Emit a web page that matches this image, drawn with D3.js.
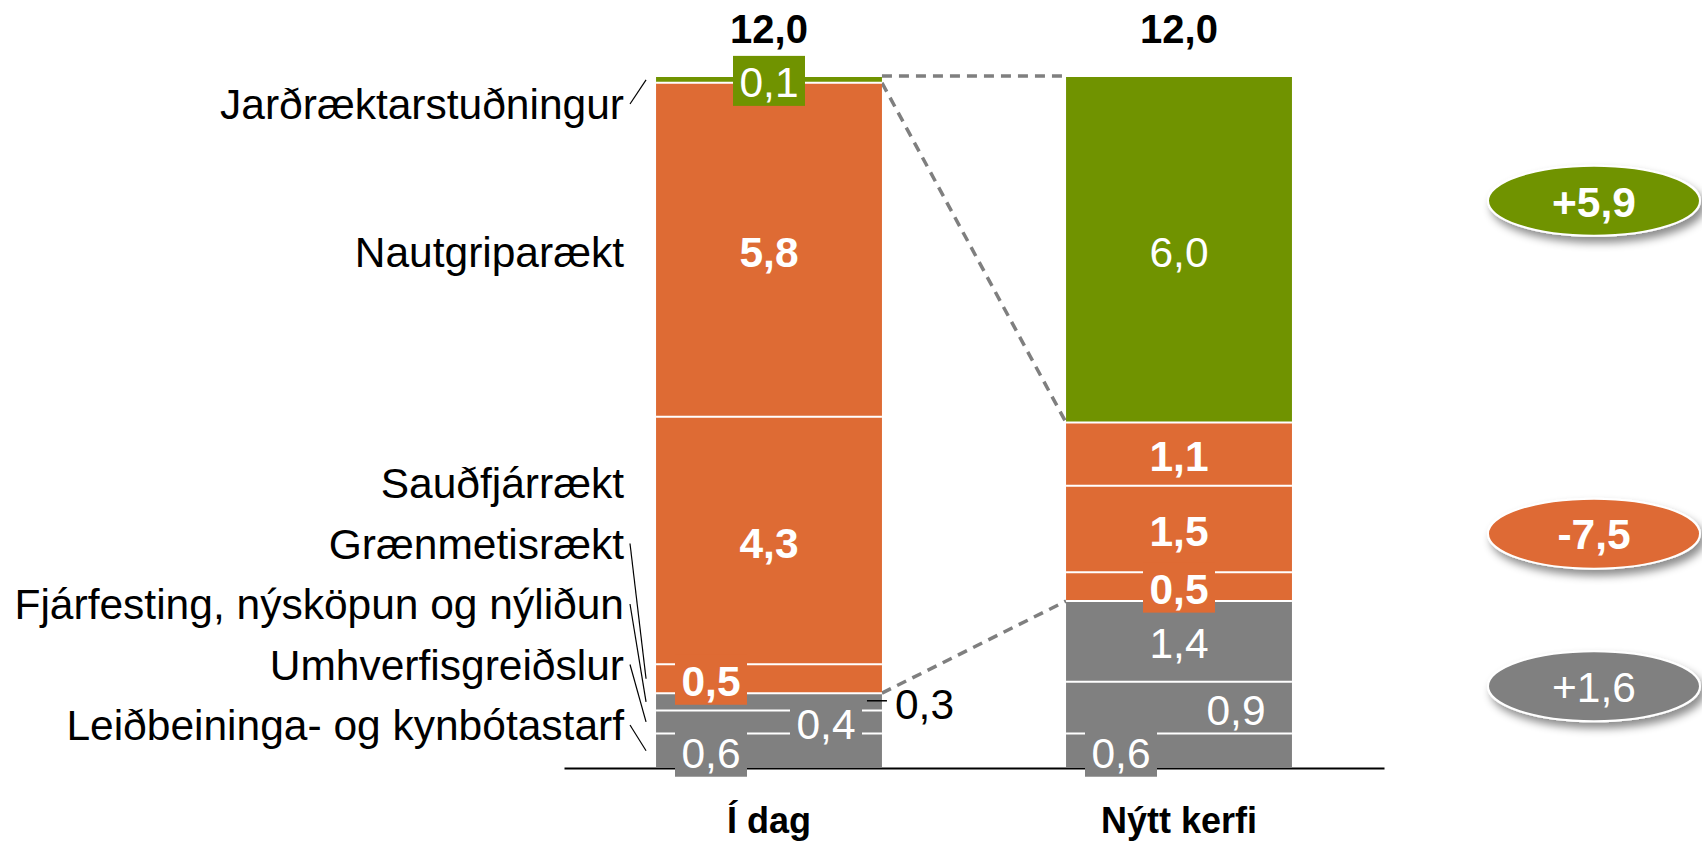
<!DOCTYPE html>
<html lang="is">
<head>
  <meta charset="UTF-8">
  <title>Í dag og nýtt kerfi</title>
  <script src="https://d3js.org/d3.v7.min.js"></script>
  <style>
    * { box-sizing: border-box; margin: 0; padding: 0; }
    body { background: #fff; font-family: 'Liberation Sans', Arial, sans-serif; }
    svg { display: block; }
  </style>
</head>
<body>
  <div id="chart"></div>

  <script>
    // bars on the x axis
    const categories = ["Í dag", "Nýtt kerfi"];

    // segments, bottom to top
    const segmentNames = [
      "Leiðbeininga- og kynbótastarf",
      "Umhverfisgreiðslur",
      "Fjárfesting, nýsköpun og nýliðun",
      "Grænmetisrækt",
      "Sauðfjárrækt",
      "Nautgriparækt",
      "Jarðræktarstuðningur"
    ];
    const segmentGroups = ["gray", "gray", "gray", "orange", "orange", "orange", "green"];
    const todayValues = [0.6, 0.4, 0.3, 0.5, 4.3, 5.8, 0.1];
    const newValues = [0.6, 0.9, 1.4, 0.5, 1.5, 1.1, 6.0];

    // change badges on the right
    const badgeGroups = ["green", "orange", "gray"];

    // layout only (not data)
    const todayPlace = ["left", "right", "outside", "left", "center", "center", "center"];
    const newPlace = ["left", "right", "center", "center", "center", "center", "center"];
    const badgeAt = [9.85, 4.07, 1.42];

    const colors = { green: "#709300", orange: "#DE6B34", gray: "#808080" };

    const width = 1702, height = 841;
    const fontSize = 42.5;

    const loc = d3.formatLocale({ decimal: ",", thousands: ".", grouping: [3], currency: ["", ""], minus: "-" });
    const f1 = loc.format(".1f");
    const fSigned = loc.format("+.1f");

    const svg = d3.select("#chart").append("svg")
      .attr("width", width)
      .attr("height", height)
      .style("font-family", "'Liberation Sans', Arial, sans-serif");

    const defs = svg.append("defs");
    defs.append("filter").attr("id", "shadow")
      .attr("x", "-20%").attr("y", "-30%").attr("width", "140%").attr("height", "170%")
      .append("feDropShadow")
      .attr("dx", 4).attr("dy", 6).attr("stdDeviation", 4)
      .attr("flood-color", "#000").attr("flood-opacity", 0.45);

    const x = d3.scaleBand()
      .domain(categories)
      .range([564, 1384])
      .paddingInner(0.449)
      .paddingOuter(0.2245);

    const y = d3.scaleLinear().domain([0, 12]).range([768, 77]);

    const build = (values, place) => {
      let acc = 0;
      return values.map((v, i) => {
        const s = { name: segmentNames[i], value: v, group: segmentGroups[i], y0: acc, y1: acc + v, place: place[i] };
        acc += v;
        return s;
      });
    };

    const bars = [
      { cat: categories[0], segs: build(todayValues, todayPlace) },
      { cat: categories[1], segs: build(newValues, newPlace) }
    ];

    // axis first, bars sit on top of it
    const axis = svg.append("g")
      .attr("transform", `translate(0,${y(0)})`)
      .call(d3.axisBottom(x).tickSize(0).tickSizeOuter(0).tickPadding(39));
    axis.select(".domain").attr("stroke", "#000").attr("stroke-width", 2);
    axis.selectAll("text")
      .attr("fill", "#000")
      .style("font-size", "36px")
      .style("font-weight", "bold")
      .style("font-family", "'Liberation Sans', Arial, sans-serif");

    // dashed connectors between group tops
    const groupTop = (segs, grp) => d3.max(segs.filter(s => s.group === grp), s => s.y1);
    const bw = x.bandwidth();
    svg.append("g").selectAll("line")
      .data(badgeGroups)
      .join("line")
      .attr("x1", x(categories[0]) + bw)
      .attr("x2", x(categories[1]))
      .attr("y1", g => y(groupTop(bars[0].segs, g)) - (g === "green" ? 1 : 0))
      .attr("y2", g => y(groupTop(bars[1].segs, g)) - (g === "green" ? 1 : 0))
      .attr("stroke", "#7f7f7f")
      .attr("stroke-width", 3.5)
      .attr("stroke-dasharray", "10,7");

    // bars
    bars.forEach(b => {
      const g = svg.append("g");
      const x0 = x(b.cat);
      g.selectAll("rect")
        .data(b.segs)
        .join("rect")
        .attr("x", x0)
        .attr("width", bw)
        .attr("y", d => y(d.y1))
        .attr("height", d => y(d.y0) - y(d.y1))
        .attr("fill", d => colors[d.group]);
      g.selectAll("line")
        .data(b.segs.slice(1))
        .join("line")
        .attr("x1", x0)
        .attr("x2", x0 + bw)
        .attr("y1", d => y(d.y0))
        .attr("y2", d => y(d.y0))
        .attr("stroke", "#fff")
        .attr("stroke-width", 2);
    });

    // value labels
    bars.forEach(b => {
      const x0 = x(b.cat);
      const cx = x0 + bw / 2;
      const g = svg.append("g");
      const items = b.segs.map(s => {
        const mid = y((s.y0 + s.y1) / 2);
        const h = y(s.y0) - y(s.y1);
        let lx = cx, anchor = "middle";
        if (s.place === "left") lx = cx - 58;
        if (s.place === "right") lx = cx + 57;
        if (s.place === "outside") { lx = x0 + bw + 13; anchor = "start"; }
        return { s, mid, lx, anchor, boxed: h < 45 && s.place !== "outside" };
      });

      g.selectAll("rect")
        .data(items.filter(d => d.boxed))
        .join("rect")
        .attr("x", d => d.lx - 36)
        .attr("y", d => d.mid - 24)
        .attr("width", 72)
        .attr("height", 50)
        .attr("fill", d => colors[d.s.group]);

      items.filter(d => d.s.place === "outside").forEach(d => {
        g.append("line")
          .attr("x1", x0 + bw - 15).attr("x2", x0 + bw + 5)
          .attr("y1", d.mid - 1).attr("y2", d.mid - 1)
          .attr("stroke", "#000").attr("stroke-width", 1.5);
      });

      g.selectAll("text")
        .data(items)
        .join("text")
        .attr("x", d => d.lx)
        .attr("y", d => d.mid)
        .attr("dy", "0.4em")
        .attr("text-anchor", d => d.anchor)
        .attr("fill", d => d.s.place === "outside" ? "#000" : "#fff")
        .style("font-size", fontSize + "px")
        .style("font-weight", d => d.s.group === "orange" ? "bold" : "normal")
        .text(d => f1(d.s.value));

      // total on top
      svg.append("text")
        .attr("x", cx)
        .attr("y", 43)
        .attr("text-anchor", "middle")
        .style("font-size", "40px")
        .style("font-weight", "bold")
        .text(f1(d3.sum(b.segs, s => s.value)));
    });

    // category labels on the left, stacked up from the bottom
    const leftSegs = bars[0].segs;
    const labelRight = 624;
    const step = 60.5;
    let prev = y(0) - 45 + step;
    const labelPos = leftSegs.map(s => {
      const mid = y((s.y0 + s.y1) / 2);
      let c = Math.min(mid, prev - step);
      c = Math.max(c, y(12) + 25);
      prev = c;
      return { s, mid, c };
    });

    const lab = svg.append("g");
    lab.selectAll("text")
      .data(labelPos)
      .join("text")
      .attr("x", labelRight)
      .attr("y", d => d.c)
      .attr("dy", "0.4em")
      .attr("text-anchor", "end")
      .style("font-size", fontSize + "px")
      .text(d => d.s.name);

    lab.selectAll("line")
      .data(labelPos.filter(d => d.s.value < 1))
      .join("line")
      .attr("x1", labelRight + 6)
      .attr("y1", d => d.c + 2)
      .attr("x2", x(categories[0]) - 10)
      .attr("y2", d => d.mid)
      .attr("stroke", "#000")
      .attr("stroke-width", 1.2);

    // change badges
    const badges = badgeGroups.map((grp, i) => {
      const before = d3.sum(bars[0].segs.filter(s => s.group === grp), s => s.value);
      const after = d3.sum(bars[1].segs.filter(s => s.group === grp), s => s.value);
      return { grp, diff: after - before, at: badgeAt[i] };
    });

    const bg = svg.append("g").selectAll("g")
      .data(badges)
      .join("g")
      .attr("transform", d => `translate(1594,${y(d.at)})`);

    bg.append("ellipse")
      .attr("rx", 106)
      .attr("ry", 35)
      .attr("fill", d => colors[d.grp])
      .attr("stroke", "#fff")
      .attr("stroke-width", 2)
      .attr("filter", "url(#shadow)");

    bg.append("text")
      .attr("text-anchor", "middle")
      .attr("dy", "0.37em")
      .attr("fill", "#fff")
      .style("font-size", fontSize + "px")
      .style("font-weight", d => d.grp === "gray" ? "normal" : "bold")
      .text(d => fSigned(d.diff));
  </script>
</body>
</html>
